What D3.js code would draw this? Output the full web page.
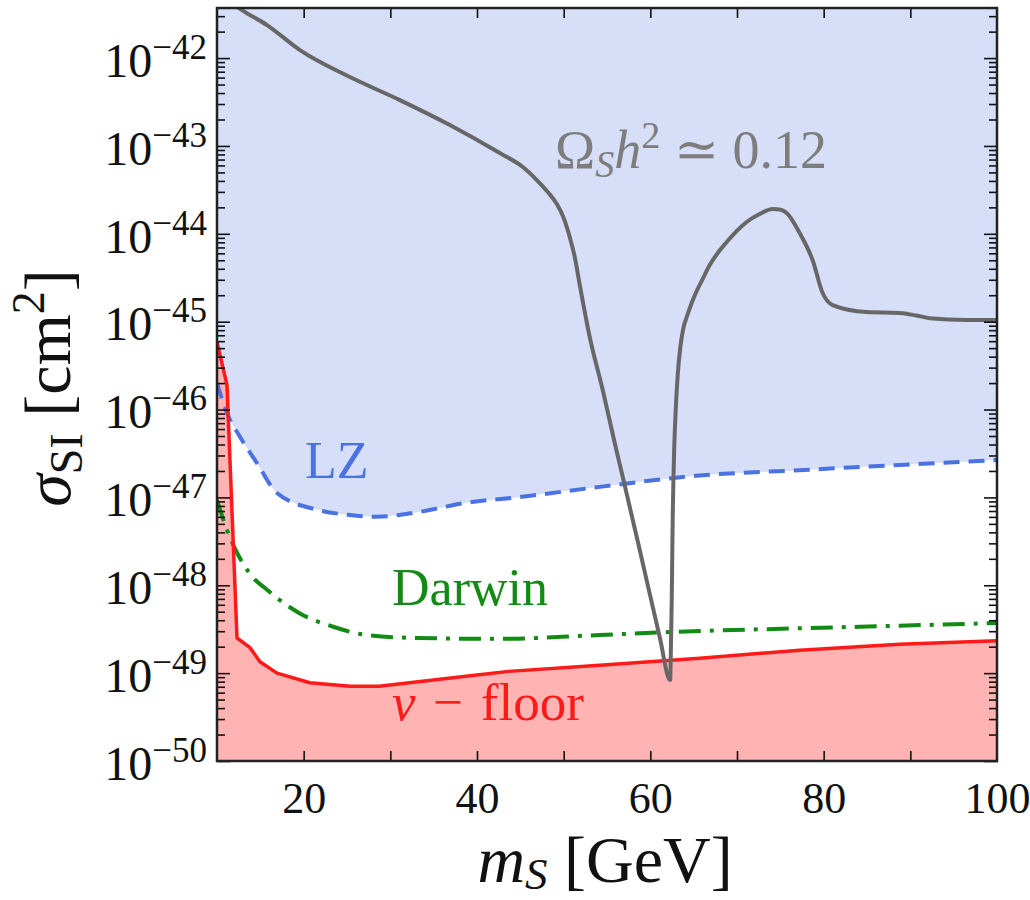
<!DOCTYPE html>
<html>
<head>
<meta charset="utf-8">
<script src="https://cdn.jsdelivr.net/npm/d3@7"></script>
<style>
  body { margin: 0; background: #fff; }
  svg text { font-family: "Liberation Serif", "DejaVu Serif", serif; }
</style>
</head>
<body>
<svg id="chart" width="1030" height="900"></svg>
<script>
// Scalar singlet dark matter: masses in GeV, cross sections as log10(sigma_SI / cm^2)

// Relic-density contour, Omega_S h^2 = 0.12
const relicMass = [11.96, 12.88, 15.77, 19.57, 25.34, 31.10, 36.87, 42.63, 45.29, 46.90, 48.17, 49.21,
  50.01, 50.70, 51.28, 51.86, 53.01, 54.51, 55.89, 56.82, 58.78, 61.08, 62.29,
  62.35, 62.47, 62.58, 62.75, 62.93, 63.16, 63.45, 63.79, 64.20, 64.77, 65.35, 66.04, 66.85, 67.77,
  68.81, 69.96, 71.11, 72.61, 74.11, 74.92, 75.73, 77.23, 78.73, 79.88, 81.03, 84.95, 88.76,
  90.72, 92.22, 96.48, 100];
const relicLogSigma = [-41.39, -41.454, -41.624, -41.909, -42.216, -42.478, -42.762, -43.081, -43.240,
  -43.388, -43.525, -43.661, -43.821, -44.037, -44.265, -44.583, -45.175, -45.778, -46.381, -46.768,
  -47.599, -48.589, -49.078,
  -48.851, -48.168, -47.257, -46.461, -46.006, -45.607, -45.300, -45.084, -44.947, -44.788, -44.651,
  -44.515, -44.356, -44.219, -44.094, -43.969, -43.866, -43.775, -43.718, -43.724, -43.764, -43.991,
  -44.301, -44.674, -44.811, -44.89, -44.90, -44.93, -44.96, -44.98, -44.98];

// LZ exclusion limit
const lzMass = [10, 11.15, 12.65, 14.61, 16.92, 21.53, 25.34, 28.45, 33.06, 38.83, 44.59, 54.16,
  65.70, 77.23, 88.76, 100];
const lzLogSigma = [-45.70, -46.04, -46.31, -46.61, -46.95, -47.14, -47.20, -47.22, -47.17, -47.06,
  -47.00, -46.88, -46.75, -46.69, -46.63, -46.575];

// DARWIN projected sensitivity
const darwinMass = [10, 11.15, 12.31, 13.11, 14.15, 15.77, 17.26, 19.57, 23.49, 27.30, 33.06, 42.63,
  54.16, 65.70, 77.23, 88.76, 100];
const darwinLogSigma = [-47.03, -47.37, -47.63, -47.77, -47.91, -48.05, -48.17, -48.32, -48.475,
  -48.566, -48.60, -48.61, -48.566, -48.52, -48.49, -48.46, -48.43];

// Neutrino floor
const floorMass = [10, 11.15, 12.31, 13.81, 14.96, 16.92, 20.72, 25.34, 28.7, 39.98, 43.67, 54.16,
  65.70, 77.23, 88.76, 100];
const floorLogSigma = [-45.23, -45.72, -48.60, -48.71, -48.87, -49.00, -49.11, -49.15, -49.15,
  -49.02, -48.98, -48.91, -48.83, -48.74, -48.67, -48.63];

// Axis ticks
const xTickValues = [20, 30, 40, 50, 60, 70, 80, 90];
const xTickLabels = [20, 40, 60, 80, 100];
const yDecades = [-50, -49, -48, -47, -46, -45, -44, -43, -42];

const svg = d3.select("#chart");
const plotLeft = 217, plotRight = 997, plotTop = 8, plotBottom = 761;

const x = d3.scaleLinear().domain([10, 100]).range([plotLeft, plotRight]);
const yMin = 1e-50, yMax = Math.pow(10, -41.43);
const y = d3.scaleLog().domain([yMin, yMax]).range([plotBottom, plotTop]);

const pts = (ms, ls) => ms.map((m, i) => [m, Math.pow(10, ls[i])]);
const relic = pts(relicMass, relicLogSigma);
const lz = pts(lzMass, lzLogSigma);
const darwin = pts(darwinMass, darwinLogSigma);
const floor = pts(floorMass, floorLogSigma);

svg.append("defs").append("clipPath").attr("id", "plotClip")
  .append("rect").attr("x", plotLeft).attr("y", plotTop)
  .attr("width", plotRight - plotLeft).attr("height", plotBottom - plotTop);

const plot = svg.append("g").attr("clip-path", "url(#plotClip)");

// Region excluded by LZ (above its limit)
plot.append("path")
  .datum(lz)
  .attr("fill", "#d6dff7")
  .attr("d", d3.area().curve(d3.curveMonotoneX)
    .x(d => x(d[0])).y0(y(yMax)).y1(d => y(d[1])));

// Region below the neutrino floor
plot.append("path")
  .datum(floor)
  .attr("fill", "#ffb3b3")
  .attr("d", d3.area().x(d => x(d[0])).y0(y(yMin)).y1(d => y(d[1])));

const line = d3.line().x(d => x(d[0])).y(d => y(d[1]));

plot.append("path").datum(lz)
  .attr("fill", "none").attr("stroke", "#4a72e2").attr("stroke-width", 4)
  .attr("stroke-dasharray", "16,9")
  .attr("d", line.curve(d3.curveMonotoneX));

plot.append("path").datum(darwin)
  .attr("fill", "none").attr("stroke", "#138a13").attr("stroke-width", 4)
  .attr("stroke-dasharray", "22,9,4,9")
  .attr("d", line.curve(d3.curveMonotoneX));

plot.append("path").datum(floor)
  .attr("fill", "none").attr("stroke", "#ff1a1a").attr("stroke-width", 3.5)
  .attr("stroke-linejoin", "round")
  .attr("d", line.curve(d3.curveLinear));

plot.append("path").datum(relic)
  .attr("fill", "none").attr("stroke", "#676767").attr("stroke-width", 4)
  .attr("stroke-linejoin", "round")
  .attr("d", line.curve(d3.curveMonotoneX));

// Axes: ticks point inward on all four sides
const majorY = yDecades.map(e => Math.pow(10, e));
const minorY = [];
yDecades.forEach(e => { for (let k = 2; k <= 9; k++) { const v = k * Math.pow(10, e); if (v <= yMax) minorY.push(v); } });

function styleAxis(g) {
  g.select(".domain").remove();
  g.selectAll(".tick line").attr("stroke", "#111").attr("stroke-width", 1.6);
}

svg.append("g").attr("transform", `translate(${plotLeft},0)`)
  .call(d3.axisLeft(y).tickValues(minorY).tickSize(-8).tickFormat(""))
  .call(styleAxis);
svg.append("g").attr("transform", `translate(${plotRight},0)`)
  .call(d3.axisRight(y).tickValues(minorY).tickSize(-8).tickFormat(""))
  .call(styleAxis);
svg.append("g").attr("transform", `translate(${plotRight},0)`)
  .call(d3.axisRight(y).tickValues(majorY).tickSize(-13).tickFormat(""))
  .call(styleAxis);

const yAxis = svg.append("g").attr("transform", `translate(${plotLeft},0)`)
  .call(d3.axisLeft(y).tickValues(majorY).tickSize(-13).tickPadding(10)
    .tickFormat(d => String(Math.round(Math.log10(d)))))
  .call(styleAxis);
yAxis.selectAll(".tick text").each(function() {
  const t = d3.select(this);
  const e = t.text();
  t.text(null).attr("fill", "#111").attr("font-size", 48).attr("dy", "0.38em");
  t.append("tspan").text("10");
  t.append("tspan").attr("font-size", 35).attr("dy", -18).text("\u2212" + e.replace("-", ""));
});

svg.append("g").attr("transform", `translate(0,${plotTop})`)
  .call(d3.axisTop(x).tickValues(xTickValues).tickSize(-10).tickFormat(""))
  .call(styleAxis);
svg.append("g").attr("transform", `translate(0,${plotBottom})`)
  .call(d3.axisBottom(x).tickValues(xTickValues).tickSize(-10).tickFormat(""))
  .call(styleAxis);
svg.append("g").attr("transform", `translate(0,${plotBottom})`)
  .call(d3.axisBottom(x).tickValues(xTickLabels).tickSize(0).tickFormat(d3.format("d")))
  .call(g => g.select(".domain").remove())
  .call(g => g.selectAll(".tick text").attr("y", 52).attr("dy", 0)
    .attr("font-size", 44).attr("fill", "#111"));

// Frame
svg.append("rect").attr("x", plotLeft).attr("y", plotTop)
  .attr("width", plotRight - plotLeft).attr("height", plotBottom - plotTop)
  .attr("fill", "none").attr("stroke", "#222").attr("stroke-width", 2.5);

// Axis titles
const xt = svg.append("text").attr("x", 605).attr("y", 882)
  .attr("text-anchor", "middle").attr("font-size", 66).attr("fill", "#111");
xt.append("tspan").attr("font-style", "italic").text("m");
xt.append("tspan").attr("font-style", "italic").attr("font-size", 45).attr("dy", 7).text("S");
xt.append("tspan").attr("dy", -7).text(" [GeV]");

const yt = svg.append("text").attr("transform", "translate(70,388) rotate(-90)")
  .attr("text-anchor", "middle").attr("font-size", 66).attr("fill", "#111");
yt.append("tspan").attr("font-style", "italic").text("\u03c3");
yt.append("tspan").attr("font-size", 46).attr("dy", 12).text("SI");
yt.append("tspan").attr("dy", -12).text(" [cm");
yt.append("tspan").attr("font-size", 46).attr("dy", -26).text("2");
yt.append("tspan").attr("dy", 26).text("]");

// Curve labels
const om = svg.append("text").attr("x", 555).attr("y", 168)
  .attr("font-size", 54).attr("fill", "#7d7d7d");
om.append("tspan").text("\u03a9");
om.append("tspan").attr("font-style", "italic").attr("font-size", 38).attr("dy", 9).text("S");
om.append("tspan").attr("font-style", "italic").attr("dy", -9).text("h");
om.append("tspan").attr("font-size", 38).attr("dy", -20).text("2");
om.append("tspan").attr("dy", 20).text(" \u2243 0.12");

svg.append("text").attr("x", 305).attr("y", 478)
  .attr("font-size", 52).attr("fill", "#4a72e2").text("LZ");
svg.append("text").attr("x", 392).attr("y", 605)
  .attr("font-size", 52).attr("fill", "#138a13").text("Darwin");
const nf = svg.append("text").attr("x", 392).attr("y", 720)
  .attr("font-size", 53).attr("fill", "#ff1a1a");
nf.append("tspan").attr("font-style", "italic").text("\u03bd");
nf.append("tspan").text("\u2004\u2212\u2004floor");
</script>
</body>
</html>
